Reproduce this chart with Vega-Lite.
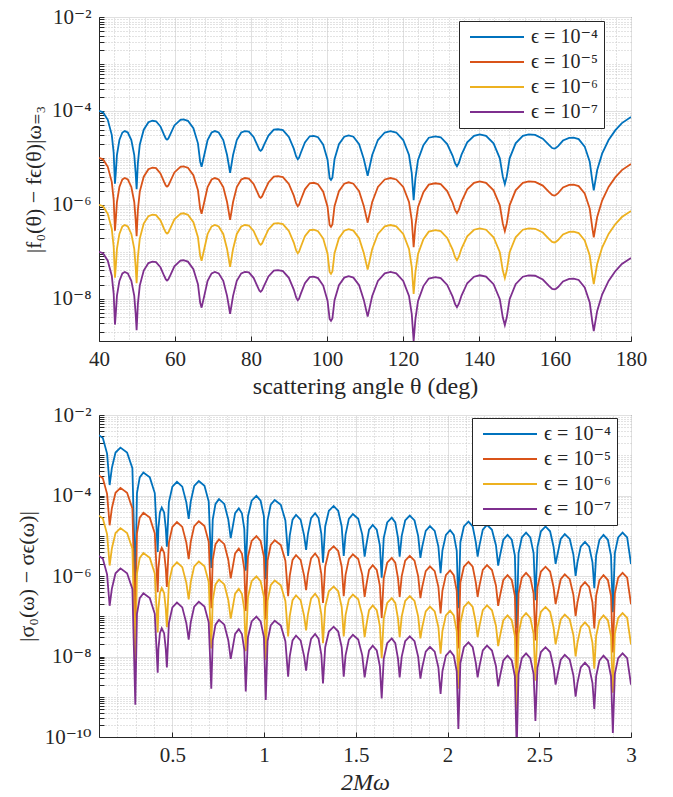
{
"$schema": "https://vega.github.io/schema/vega-lite/v6.json",
"padding": {"left": 14, "top": 5, "right": 5, "bottom": 2},
"config": {
  "font": "Liberation Serif, DejaVu Serif, serif",
  "view": {"stroke": "#262626", "strokeWidth": 1},
  "axis": {"labelFont": "Liberation Serif, DejaVu Serif, serif", "labelFontSize": 21, "labelColor": "#262626", "titleFont": "Liberation Serif, DejaVu Serif, serif", "titleFontSize": 22, "titleFontWeight": "normal", "titleColor": "#262626", "domainColor": "#262626", "tickColor": "#262626", "tickSize": -5, "labelFlush": false, "labelOverlap": false, "gridWidth": 1},
  "axisX": {"titleFontSize": 24},
  "legend": {"labelFont": "Liberation Serif, DejaVu Serif, serif", "labelFontSize": 20, "labelColor": "#262626", "symbolType": "M-1,0H9.8", "symbolSize": 100, "symbolStrokeWidth": 2, "fillColor": "white", "strokeColor": "#262626", "padding": 6, "rowPadding": 5, "labelOffset": 46, "title": null}
},
"datasets": {
"t4": [{"x":40,"y":1.00e-4},{"x":41.05,"y":9.33e-5},{"x":42.31,"y":6.46e-5},{"x":43.36,"y":3.09e-5},{"x":43.86,"y":1.29e-5},{"x":44.2,"y":2.82e-6},{"x":44.41,"y":4.68e-6},{"x":44.72,"y":1.15e-5},{"x":45.37,"y":2.40e-5},{"x":46.15,"y":3.47e-5},{"x":46.8,"y":3.72e-5},{"x":47.58,"y":3.47e-5},{"x":48.51,"y":2.40e-5},{"x":49.28,"y":1.15e-5},{"x":49.65,"y":4.68e-6},{"x":49.9,"y":2.14e-6},{"x":50.23,"y":7.76e-6},{"x":50.73,"y":1.91e-5},{"x":51.77,"y":3.98e-5},{"x":53.01,"y":5.75e-5},{"x":54.05,"y":6.17e-5},{"x":55.01,"y":6.03e-5},{"x":56.17,"y":4.68e-5},{"x":57.13,"y":3.09e-5},{"x":57.59,"y":2.57e-5},{"x":57.9,"y":2.45e-5},{"x":58.24,"y":2.57e-5},{"x":58.76,"y":3.16e-5},{"x":59.84,"y":4.90e-5},{"x":61.43,"y":6.46e-5},{"x":62.2,"y":6.61e-5},{"x":63.4,"y":6.17e-5},{"x":64.84,"y":4.27e-5},{"x":66.04,"y":2.04e-5},{"x":66.62,"y":8.32e-6},{"x":67,"y":6.46e-6},{"x":67.7,"y":1.15e-5},{"x":68.58,"y":2.40e-5},{"x":69.63,"y":3.47e-5},{"x":70.5,"y":3.72e-5},{"x":71.5,"y":3.47e-5},{"x":72.7,"y":2.40e-5},{"x":73.7,"y":1.15e-5},{"x":74.5,"y":4.79e-6},{"x":75.28,"y":1.15e-5},{"x":76.26,"y":2.40e-5},{"x":77.43,"y":3.47e-5},{"x":78.4,"y":3.72e-5},{"x":79.44,"y":3.63e-5},{"x":80.68,"y":2.79e-5},{"x":81.72,"y":1.82e-5},{"x":82.22,"y":1.48e-5},{"x":82.55,"y":1.41e-5},{"x":82.91,"y":1.51e-5},{"x":83.46,"y":1.91e-5},{"x":84.6,"y":2.99e-5},{"x":86,"y":3.98e-5},{"x":87.1,"y":4.07e-5},{"x":88.4,"y":3.89e-5},{"x":89.96,"y":2.79e-5},{"x":91.26,"y":1.57e-5},{"x":91.88,"y":1.07e-5},{"x":92.3,"y":9.33e-6},{"x":92.64,"y":1.00e-5},{"x":93.14,"y":1.30e-5},{"x":94.19,"y":2.14e-5},{"x":95.45,"y":2.88e-5},{"x":96.5,"y":2.95e-5},{"x":97.64,"y":2.75e-5},{"x":99,"y":1.91e-5},{"x":100.14,"y":9.12e-6},{"x":100.69,"y":3.72e-6},{"x":101.05,"y":3.39e-6},{"x":101.42,"y":3.80e-6},{"x":101.98,"y":9.33e-6},{"x":103.14,"y":1.95e-5},{"x":104.54,"y":2.82e-5},{"x":105.7,"y":3.02e-5},{"x":106.95,"y":2.82e-5},{"x":108.45,"y":1.95e-5},{"x":109.7,"y":9.33e-6},{"x":110.7,"y":4.17e-6},{"x":111.9,"y":1.15e-5},{"x":113.4,"y":2.40e-5},{"x":115.2,"y":3.47e-5},{"x":116.7,"y":3.72e-5},{"x":118.23,"y":3.47e-5},{"x":120.06,"y":2.40e-5},{"x":121.58,"y":1.15e-5},{"x":122.31,"y":4.68e-6},{"x":122.8,"y":1.26e-6},{"x":123.26,"y":3.63e-6},{"x":123.94,"y":8.91e-6},{"x":125.37,"y":1.86e-5},{"x":126.78,"y":2.69e-5},{"x":128.5,"y":2.88e-5},{"x":129.93,"y":2.75e-5},{"x":131.63,"y":1.97e-5},{"x":133.06,"y":1.11e-5},{"x":133.74,"y":7.59e-6},{"x":134.2,"y":6.61e-6},{"x":134.68,"y":7.76e-6},{"x":135.4,"y":1.17e-5},{"x":136.9,"y":2.14e-5},{"x":138.7,"y":2.95e-5},{"x":140.2,"y":3.16e-5},{"x":141.85,"y":2.95e-5},{"x":143.83,"y":2.04e-5},{"x":145.48,"y":9.77e-6},{"x":146.27,"y":3.98e-6},{"x":146.8,"y":2.75e-6},{"x":147.3,"y":3.98e-6},{"x":148.06,"y":9.77e-6},{"x":149.64,"y":2.04e-5},{"x":151.53,"y":2.95e-5},{"x":153.1,"y":3.16e-5},{"x":154.78,"y":3.09e-5},{"x":156.79,"y":2.57e-5},{"x":158.46,"y":1.86e-5},{"x":159.26,"y":1.62e-5},{"x":159.8,"y":1.58e-5},{"x":160.21,"y":1.62e-5},{"x":160.82,"y":1.78e-5},{"x":162.1,"y":2.34e-5},{"x":163.73,"y":2.66e-5},{"x":164.9,"y":2.69e-5},{"x":166.23,"y":2.51e-5},{"x":167.82,"y":1.74e-5},{"x":169.14,"y":8.32e-6},{"x":169.78,"y":3.39e-6},{"x":170.2,"y":2.04e-6},{"x":171.1,"y":5.50e-6},{"x":172.4,"y":1.23e-5},{"x":174.1,"y":2.40e-5},{"x":175.9,"y":3.89e-5},{"x":177.6,"y":5.50e-5},{"x":180,"y":7.41e-5}],
"t5": [{"x":40,"y":1.00e-5},{"x":41.05,"y":9.33e-6},{"x":42.31,"y":6.46e-6},{"x":43.36,"y":3.09e-6},{"x":43.86,"y":1.29e-6},{"x":44.2,"y":2.82e-7},{"x":44.41,"y":4.68e-7},{"x":44.72,"y":1.15e-6},{"x":45.37,"y":2.40e-6},{"x":46.15,"y":3.47e-6},{"x":46.8,"y":3.72e-6},{"x":47.58,"y":3.47e-6},{"x":48.51,"y":2.40e-6},{"x":49.28,"y":1.15e-6},{"x":49.65,"y":4.68e-7},{"x":49.9,"y":2.14e-7},{"x":50.23,"y":7.76e-7},{"x":50.73,"y":1.91e-6},{"x":51.77,"y":3.98e-6},{"x":53.01,"y":5.75e-6},{"x":54.05,"y":6.17e-6},{"x":55.01,"y":6.03e-6},{"x":56.17,"y":4.68e-6},{"x":57.13,"y":3.09e-6},{"x":57.59,"y":2.57e-6},{"x":57.9,"y":2.45e-6},{"x":58.24,"y":2.57e-6},{"x":58.76,"y":3.16e-6},{"x":59.84,"y":4.90e-6},{"x":61.43,"y":6.46e-6},{"x":62.2,"y":6.61e-6},{"x":63.4,"y":6.17e-6},{"x":64.84,"y":4.27e-6},{"x":66.04,"y":2.04e-6},{"x":66.62,"y":8.32e-7},{"x":67,"y":6.46e-7},{"x":67.7,"y":1.15e-6},{"x":68.58,"y":2.40e-6},{"x":69.63,"y":3.47e-6},{"x":70.5,"y":3.72e-6},{"x":71.5,"y":3.47e-6},{"x":72.7,"y":2.40e-6},{"x":73.7,"y":1.15e-6},{"x":74.5,"y":4.79e-7},{"x":75.28,"y":1.15e-6},{"x":76.26,"y":2.40e-6},{"x":77.43,"y":3.47e-6},{"x":78.4,"y":3.72e-6},{"x":79.44,"y":3.63e-6},{"x":80.68,"y":2.79e-6},{"x":81.72,"y":1.82e-6},{"x":82.22,"y":1.48e-6},{"x":82.55,"y":1.41e-6},{"x":82.91,"y":1.51e-6},{"x":83.46,"y":1.91e-6},{"x":84.6,"y":2.99e-6},{"x":86,"y":3.98e-6},{"x":87.1,"y":4.07e-6},{"x":88.4,"y":3.89e-6},{"x":89.96,"y":2.79e-6},{"x":91.26,"y":1.57e-6},{"x":91.88,"y":1.07e-6},{"x":92.3,"y":9.33e-7},{"x":92.64,"y":1.00e-6},{"x":93.14,"y":1.30e-6},{"x":94.19,"y":2.14e-6},{"x":95.45,"y":2.88e-6},{"x":96.5,"y":2.95e-6},{"x":97.64,"y":2.75e-6},{"x":99,"y":1.91e-6},{"x":100.14,"y":9.12e-7},{"x":100.69,"y":3.72e-7},{"x":101.05,"y":3.39e-7},{"x":101.42,"y":3.80e-7},{"x":101.98,"y":9.33e-7},{"x":103.14,"y":1.95e-6},{"x":104.54,"y":2.82e-6},{"x":105.7,"y":3.02e-6},{"x":106.95,"y":2.82e-6},{"x":108.45,"y":1.95e-6},{"x":109.7,"y":9.33e-7},{"x":110.7,"y":4.17e-7},{"x":111.9,"y":1.15e-6},{"x":113.4,"y":2.40e-6},{"x":115.2,"y":3.47e-6},{"x":116.7,"y":3.72e-6},{"x":118.23,"y":3.47e-6},{"x":120.06,"y":2.40e-6},{"x":121.58,"y":1.15e-6},{"x":122.31,"y":4.68e-7},{"x":122.8,"y":1.26e-7},{"x":123.26,"y":3.63e-7},{"x":123.94,"y":8.91e-7},{"x":125.37,"y":1.86e-6},{"x":126.78,"y":2.69e-6},{"x":128.5,"y":2.88e-6},{"x":129.93,"y":2.75e-6},{"x":131.63,"y":1.97e-6},{"x":133.06,"y":1.11e-6},{"x":133.74,"y":7.59e-7},{"x":134.2,"y":6.61e-7},{"x":134.68,"y":7.76e-7},{"x":135.4,"y":1.17e-6},{"x":136.9,"y":2.14e-6},{"x":138.7,"y":2.95e-6},{"x":140.2,"y":3.16e-6},{"x":141.85,"y":2.95e-6},{"x":143.83,"y":2.04e-6},{"x":145.48,"y":9.77e-7},{"x":146.27,"y":3.98e-7},{"x":146.8,"y":2.75e-7},{"x":147.3,"y":3.98e-7},{"x":148.06,"y":9.77e-7},{"x":149.64,"y":2.04e-6},{"x":151.53,"y":2.95e-6},{"x":153.1,"y":3.16e-6},{"x":154.78,"y":3.09e-6},{"x":156.79,"y":2.57e-6},{"x":158.46,"y":1.86e-6},{"x":159.26,"y":1.62e-6},{"x":159.8,"y":1.58e-6},{"x":160.21,"y":1.62e-6},{"x":160.82,"y":1.78e-6},{"x":162.1,"y":2.34e-6},{"x":163.73,"y":2.66e-6},{"x":164.9,"y":2.69e-6},{"x":166.23,"y":2.51e-6},{"x":167.82,"y":1.74e-6},{"x":169.14,"y":8.32e-7},{"x":169.78,"y":3.39e-7},{"x":170.2,"y":2.04e-7},{"x":171.1,"y":5.50e-7},{"x":172.4,"y":1.23e-6},{"x":174.1,"y":2.40e-6},{"x":175.9,"y":3.89e-6},{"x":177.6,"y":5.50e-6},{"x":180,"y":7.41e-6}],
"t6": [{"x":40,"y":1.00e-6},{"x":41.05,"y":9.33e-7},{"x":42.31,"y":6.46e-7},{"x":43.36,"y":3.09e-7},{"x":43.86,"y":1.29e-7},{"x":44.2,"y":2.82e-8},{"x":44.41,"y":4.68e-8},{"x":44.72,"y":1.15e-7},{"x":45.37,"y":2.40e-7},{"x":46.15,"y":3.47e-7},{"x":46.8,"y":3.72e-7},{"x":47.58,"y":3.47e-7},{"x":48.51,"y":2.40e-7},{"x":49.28,"y":1.15e-7},{"x":49.65,"y":4.68e-8},{"x":49.9,"y":2.14e-8},{"x":50.23,"y":7.76e-8},{"x":50.73,"y":1.91e-7},{"x":51.77,"y":3.98e-7},{"x":53.01,"y":5.75e-7},{"x":54.05,"y":6.17e-7},{"x":55.01,"y":6.03e-7},{"x":56.17,"y":4.68e-7},{"x":57.13,"y":3.09e-7},{"x":57.59,"y":2.57e-7},{"x":57.9,"y":2.45e-7},{"x":58.24,"y":2.57e-7},{"x":58.76,"y":3.16e-7},{"x":59.84,"y":4.90e-7},{"x":61.43,"y":6.46e-7},{"x":62.2,"y":6.61e-7},{"x":63.4,"y":6.17e-7},{"x":64.84,"y":4.27e-7},{"x":66.04,"y":2.04e-7},{"x":66.62,"y":8.32e-8},{"x":67,"y":6.46e-8},{"x":67.7,"y":1.15e-7},{"x":68.58,"y":2.40e-7},{"x":69.63,"y":3.47e-7},{"x":70.5,"y":3.72e-7},{"x":71.5,"y":3.47e-7},{"x":72.7,"y":2.40e-7},{"x":73.7,"y":1.15e-7},{"x":74.5,"y":4.79e-8},{"x":75.28,"y":1.15e-7},{"x":76.26,"y":2.40e-7},{"x":77.43,"y":3.47e-7},{"x":78.4,"y":3.72e-7},{"x":79.44,"y":3.63e-7},{"x":80.68,"y":2.79e-7},{"x":81.72,"y":1.82e-7},{"x":82.22,"y":1.48e-7},{"x":82.55,"y":1.41e-7},{"x":82.91,"y":1.51e-7},{"x":83.46,"y":1.91e-7},{"x":84.6,"y":2.99e-7},{"x":86,"y":3.98e-7},{"x":87.1,"y":4.07e-7},{"x":88.4,"y":3.89e-7},{"x":89.96,"y":2.79e-7},{"x":91.26,"y":1.57e-7},{"x":91.88,"y":1.07e-7},{"x":92.3,"y":9.33e-8},{"x":92.64,"y":1.00e-7},{"x":93.14,"y":1.30e-7},{"x":94.19,"y":2.14e-7},{"x":95.45,"y":2.88e-7},{"x":96.5,"y":2.95e-7},{"x":97.64,"y":2.75e-7},{"x":99,"y":1.91e-7},{"x":100.14,"y":9.12e-8},{"x":100.69,"y":3.72e-8},{"x":101.05,"y":3.39e-8},{"x":101.42,"y":3.80e-8},{"x":101.98,"y":9.33e-8},{"x":103.14,"y":1.95e-7},{"x":104.54,"y":2.82e-7},{"x":105.7,"y":3.02e-7},{"x":106.95,"y":2.82e-7},{"x":108.45,"y":1.95e-7},{"x":109.7,"y":9.33e-8},{"x":110.7,"y":4.17e-8},{"x":111.9,"y":1.15e-7},{"x":113.4,"y":2.40e-7},{"x":115.2,"y":3.47e-7},{"x":116.7,"y":3.72e-7},{"x":118.23,"y":3.47e-7},{"x":120.06,"y":2.40e-7},{"x":121.58,"y":1.15e-7},{"x":122.31,"y":4.68e-8},{"x":122.8,"y":1.26e-8},{"x":123.26,"y":3.63e-8},{"x":123.94,"y":8.91e-8},{"x":125.37,"y":1.86e-7},{"x":126.78,"y":2.69e-7},{"x":128.5,"y":2.88e-7},{"x":129.93,"y":2.75e-7},{"x":131.63,"y":1.97e-7},{"x":133.06,"y":1.11e-7},{"x":133.74,"y":7.59e-8},{"x":134.2,"y":6.61e-8},{"x":134.68,"y":7.76e-8},{"x":135.4,"y":1.17e-7},{"x":136.9,"y":2.14e-7},{"x":138.7,"y":2.95e-7},{"x":140.2,"y":3.16e-7},{"x":141.85,"y":2.95e-7},{"x":143.83,"y":2.04e-7},{"x":145.48,"y":9.77e-8},{"x":146.27,"y":3.98e-8},{"x":146.8,"y":2.75e-8},{"x":147.3,"y":3.98e-8},{"x":148.06,"y":9.77e-8},{"x":149.64,"y":2.04e-7},{"x":151.53,"y":2.95e-7},{"x":153.1,"y":3.16e-7},{"x":154.78,"y":3.09e-7},{"x":156.79,"y":2.57e-7},{"x":158.46,"y":1.86e-7},{"x":159.26,"y":1.62e-7},{"x":159.8,"y":1.58e-7},{"x":160.21,"y":1.62e-7},{"x":160.82,"y":1.78e-7},{"x":162.1,"y":2.34e-7},{"x":163.73,"y":2.66e-7},{"x":164.9,"y":2.69e-7},{"x":166.23,"y":2.51e-7},{"x":167.82,"y":1.74e-7},{"x":169.14,"y":8.32e-8},{"x":169.78,"y":3.39e-8},{"x":170.2,"y":2.04e-8},{"x":171.1,"y":5.50e-8},{"x":172.4,"y":1.23e-7},{"x":174.1,"y":2.40e-7},{"x":175.9,"y":3.89e-7},{"x":177.6,"y":5.50e-7},{"x":180,"y":7.41e-7}],
"t7": [{"x":40,"y":1.00e-7},{"x":41.05,"y":9.33e-8},{"x":42.31,"y":6.46e-8},{"x":43.36,"y":3.09e-8},{"x":43.86,"y":1.29e-8},{"x":44.2,"y":2.82e-9},{"x":44.41,"y":4.68e-9},{"x":44.72,"y":1.15e-8},{"x":45.37,"y":2.40e-8},{"x":46.15,"y":3.47e-8},{"x":46.8,"y":3.72e-8},{"x":47.58,"y":3.47e-8},{"x":48.51,"y":2.40e-8},{"x":49.28,"y":1.15e-8},{"x":49.65,"y":4.68e-9},{"x":49.9,"y":2.14e-9},{"x":50.23,"y":7.76e-9},{"x":50.73,"y":1.91e-8},{"x":51.77,"y":3.98e-8},{"x":53.01,"y":5.75e-8},{"x":54.05,"y":6.17e-8},{"x":55.01,"y":6.03e-8},{"x":56.17,"y":4.68e-8},{"x":57.13,"y":3.09e-8},{"x":57.59,"y":2.57e-8},{"x":57.9,"y":2.45e-8},{"x":58.24,"y":2.57e-8},{"x":58.76,"y":3.16e-8},{"x":59.84,"y":4.90e-8},{"x":61.43,"y":6.46e-8},{"x":62.2,"y":6.61e-8},{"x":63.4,"y":6.17e-8},{"x":64.84,"y":4.27e-8},{"x":66.04,"y":2.04e-8},{"x":66.62,"y":8.32e-9},{"x":67,"y":6.46e-9},{"x":67.7,"y":1.15e-8},{"x":68.58,"y":2.40e-8},{"x":69.63,"y":3.47e-8},{"x":70.5,"y":3.72e-8},{"x":71.5,"y":3.47e-8},{"x":72.7,"y":2.40e-8},{"x":73.7,"y":1.15e-8},{"x":74.5,"y":4.79e-9},{"x":75.28,"y":1.15e-8},{"x":76.26,"y":2.40e-8},{"x":77.43,"y":3.47e-8},{"x":78.4,"y":3.72e-8},{"x":79.44,"y":3.63e-8},{"x":80.68,"y":2.79e-8},{"x":81.72,"y":1.82e-8},{"x":82.22,"y":1.48e-8},{"x":82.55,"y":1.41e-8},{"x":82.91,"y":1.51e-8},{"x":83.46,"y":1.91e-8},{"x":84.6,"y":2.99e-8},{"x":86,"y":3.98e-8},{"x":87.1,"y":4.07e-8},{"x":88.4,"y":3.89e-8},{"x":89.96,"y":2.79e-8},{"x":91.26,"y":1.57e-8},{"x":91.88,"y":1.07e-8},{"x":92.3,"y":9.33e-9},{"x":92.64,"y":1.00e-8},{"x":93.14,"y":1.30e-8},{"x":94.19,"y":2.14e-8},{"x":95.45,"y":2.88e-8},{"x":96.5,"y":2.95e-8},{"x":97.64,"y":2.75e-8},{"x":99,"y":1.91e-8},{"x":100.14,"y":9.12e-9},{"x":100.69,"y":3.72e-9},{"x":101.05,"y":3.39e-9},{"x":101.42,"y":3.80e-9},{"x":101.98,"y":9.33e-9},{"x":103.14,"y":1.95e-8},{"x":104.54,"y":2.82e-8},{"x":105.7,"y":3.02e-8},{"x":106.95,"y":2.82e-8},{"x":108.45,"y":1.95e-8},{"x":109.7,"y":9.33e-9},{"x":110.7,"y":4.17e-9},{"x":111.9,"y":1.15e-8},{"x":113.4,"y":2.40e-8},{"x":115.2,"y":3.47e-8},{"x":116.7,"y":3.72e-8},{"x":118.23,"y":3.47e-8},{"x":120.06,"y":2.40e-8},{"x":121.58,"y":1.15e-8},{"x":122.31,"y":4.68e-9},{"x":122.8,"y":1.26e-9},{"x":123.26,"y":3.63e-9},{"x":123.94,"y":8.91e-9},{"x":125.37,"y":1.86e-8},{"x":126.78,"y":2.69e-8},{"x":128.5,"y":2.88e-8},{"x":129.93,"y":2.75e-8},{"x":131.63,"y":1.97e-8},{"x":133.06,"y":1.11e-8},{"x":133.74,"y":7.59e-9},{"x":134.2,"y":6.61e-9},{"x":134.68,"y":7.76e-9},{"x":135.4,"y":1.17e-8},{"x":136.9,"y":2.14e-8},{"x":138.7,"y":2.95e-8},{"x":140.2,"y":3.16e-8},{"x":141.85,"y":2.95e-8},{"x":143.83,"y":2.04e-8},{"x":145.48,"y":9.77e-9},{"x":146.27,"y":3.98e-9},{"x":146.8,"y":2.75e-9},{"x":147.3,"y":3.98e-9},{"x":148.06,"y":9.77e-9},{"x":149.64,"y":2.04e-8},{"x":151.53,"y":2.95e-8},{"x":153.1,"y":3.16e-8},{"x":154.78,"y":3.09e-8},{"x":156.79,"y":2.57e-8},{"x":158.46,"y":1.86e-8},{"x":159.26,"y":1.62e-8},{"x":159.8,"y":1.58e-8},{"x":160.21,"y":1.62e-8},{"x":160.82,"y":1.78e-8},{"x":162.1,"y":2.34e-8},{"x":163.73,"y":2.66e-8},{"x":164.9,"y":2.69e-8},{"x":166.23,"y":2.51e-8},{"x":167.82,"y":1.74e-8},{"x":169.14,"y":8.32e-9},{"x":169.78,"y":3.39e-9},{"x":170.2,"y":2.04e-9},{"x":171.1,"y":5.50e-9},{"x":172.4,"y":1.23e-8},{"x":174.1,"y":2.40e-8},{"x":175.9,"y":3.89e-8},{"x":177.6,"y":5.50e-8},{"x":180,"y":7.41e-8}],
"b4": [{"x":0.1,"y":3.16e-3},{"x":0.121,"y":2.69e-3},{"x":0.144,"y":1.10e-3},{"x":0.158,"y":1.82e-4},{"x":0.17,"y":4.79e-4},{"x":0.19,"y":1.17e-3},{"x":0.217,"y":1.55e-3},{"x":0.253,"y":1.17e-3},{"x":0.282,"y":4.79e-4},{"x":0.298,"y":6.31e-7},{"x":0.307,"y":1.15e-4},{"x":0.322,"y":2.82e-4},{"x":0.342,"y":3.72e-4},{"x":0.377,"y":2.82e-4},{"x":0.404,"y":1.15e-4},{"x":0.42,"y":3.98e-6},{"x":0.424,"y":1.55e-5},{"x":0.432,"y":3.80e-5},{"x":0.442,"y":5.01e-5},{"x":0.455,"y":3.80e-5},{"x":0.464,"y":1.55e-5},{"x":0.47,"y":5.37e-6},{"x":0.481,"y":6.76e-5},{"x":0.5,"y":1.66e-4},{"x":0.525,"y":2.19e-4},{"x":0.554,"y":1.66e-4},{"x":0.576,"y":6.76e-5},{"x":0.589,"y":2.63e-5},{"x":0.6,"y":7.08e-5},{"x":0.619,"y":1.74e-4},{"x":0.644,"y":2.29e-4},{"x":0.675,"y":1.74e-4},{"x":0.698,"y":7.08e-5},{"x":0.712,"y":1.58e-6},{"x":0.72,"y":2.51e-5},{"x":0.735,"y":6.17e-5},{"x":0.754,"y":8.13e-5},{"x":0.783,"y":6.17e-5},{"x":0.805,"y":2.51e-5},{"x":0.818,"y":8.71e-6},{"x":0.827,"y":1.48e-5},{"x":0.842,"y":3.63e-5},{"x":0.862,"y":4.79e-5},{"x":0.879,"y":3.63e-5},{"x":0.892,"y":1.48e-5},{"x":0.9,"y":1.35e-6},{"x":0.912,"y":3.02e-5},{"x":0.932,"y":7.41e-5},{"x":0.958,"y":9.77e-5},{"x":0.981,"y":7.41e-5},{"x":0.999,"y":3.02e-5},{"x":1.009,"y":8.32e-7},{"x":1.019,"y":2.40e-5},{"x":1.036,"y":5.89e-5},{"x":1.058,"y":7.76e-5},{"x":1.091,"y":5.89e-5},{"x":1.116,"y":2.40e-5},{"x":1.131,"y":3.16e-6},{"x":1.14,"y":1.02e-5},{"x":1.155,"y":2.51e-5},{"x":1.174,"y":3.31e-5},{"x":1.199,"y":2.51e-5},{"x":1.218,"y":1.02e-5},{"x":1.229,"y":4.47e-6},{"x":1.239,"y":1.12e-5},{"x":1.256,"y":2.75e-5},{"x":1.278,"y":3.63e-5},{"x":1.297,"y":2.75e-5},{"x":1.312,"y":1.12e-5},{"x":1.321,"y":2.14e-6},{"x":1.333,"y":1.70e-5},{"x":1.353,"y":4.17e-5},{"x":1.379,"y":5.50e-5},{"x":1.404,"y":4.17e-5},{"x":1.423,"y":1.70e-5},{"x":1.434,"y":3.16e-6},{"x":1.444,"y":1.07e-5},{"x":1.462,"y":2.63e-5},{"x":1.484,"y":3.47e-5},{"x":1.513,"y":2.63e-5},{"x":1.535,"y":1.07e-5},{"x":1.548,"y":3.02e-6},{"x":1.557,"y":5.75e-6},{"x":1.572,"y":1.41e-5},{"x":1.592,"y":1.86e-5},{"x":1.614,"y":1.41e-5},{"x":1.631,"y":5.75e-6},{"x":1.641,"y":9.12e-7},{"x":1.652,"y":8.71e-6},{"x":1.671,"y":2.14e-5},{"x":1.696,"y":2.82e-5},{"x":1.715,"y":2.14e-5},{"x":1.73,"y":8.71e-6},{"x":1.739,"y":3.02e-6},{"x":1.75,"y":9.77e-6},{"x":1.769,"y":2.40e-5},{"x":1.794,"y":3.16e-5},{"x":1.82,"y":2.40e-5},{"x":1.84,"y":9.77e-6},{"x":1.852,"y":2.82e-6},{"x":1.862,"y":5.37e-6},{"x":1.881,"y":1.32e-5},{"x":1.904,"y":1.74e-5},{"x":1.93,"y":1.32e-5},{"x":1.95,"y":5.37e-6},{"x":1.962,"y":1.17e-6},{"x":1.972,"y":4.27e-6},{"x":1.991,"y":1.05e-5},{"x":2.014,"y":1.38e-5},{"x":2.034,"y":1.05e-5},{"x":2.05,"y":4.27e-6},{"x":2.059,"y":1.58e-7},{"x":2.07,"y":6.92e-6},{"x":2.089,"y":1.70e-5},{"x":2.114,"y":2.24e-5},{"x":2.137,"y":1.70e-5},{"x":2.154,"y":6.92e-6},{"x":2.164,"y":3.02e-6},{"x":2.174,"y":5.75e-6},{"x":2.192,"y":1.41e-5},{"x":2.215,"y":1.86e-5},{"x":2.242,"y":1.41e-5},{"x":2.264,"y":5.75e-6},{"x":2.276,"y":1.82e-6},{"x":2.286,"y":3.24e-6},{"x":2.304,"y":7.94e-6},{"x":2.327,"y":1.05e-5},{"x":2.35,"y":7.94e-6},{"x":2.367,"y":3.24e-6},{"x":2.377,"y":5.01e-8},{"x":2.387,"y":3.72e-6},{"x":2.405,"y":9.12e-6},{"x":2.428,"y":1.20e-5},{"x":2.451,"y":9.12e-6},{"x":2.469,"y":3.72e-6},{"x":2.479,"y":2.51e-7},{"x":2.49,"y":5.25e-6},{"x":2.509,"y":1.29e-5},{"x":2.534,"y":1.70e-5},{"x":2.559,"y":1.29e-5},{"x":2.578,"y":5.25e-6},{"x":2.589,"y":2.00e-6},{"x":2.599,"y":3.39e-6},{"x":2.617,"y":8.32e-6},{"x":2.639,"y":1.10e-5},{"x":2.666,"y":8.32e-6},{"x":2.686,"y":3.39e-6},{"x":2.698,"y":1.00e-6},{"x":2.708,"y":2.19e-6},{"x":2.726,"y":5.37e-6},{"x":2.749,"y":7.08e-6},{"x":2.772,"y":5.37e-6},{"x":2.79,"y":2.19e-6},{"x":2.8,"y":5.01e-7},{"x":2.81,"y":3.24e-6},{"x":2.828,"y":7.94e-6},{"x":2.85,"y":1.05e-5},{"x":2.874,"y":7.94e-6},{"x":2.891,"y":3.24e-6},{"x":2.901,"y":1.26e-7},{"x":2.912,"y":3.72e-6},{"x":2.93,"y":9.12e-6},{"x":2.954,"y":1.20e-5},{"x":2.979,"y":9.12e-6},{"x":3,"y":2.00e-6}],
"b5": [{"x":0.1,"y":3.16e-4},{"x":0.121,"y":2.69e-4},{"x":0.144,"y":1.10e-4},{"x":0.158,"y":1.82e-5},{"x":0.17,"y":4.79e-5},{"x":0.19,"y":1.17e-4},{"x":0.217,"y":1.55e-4},{"x":0.253,"y":1.17e-4},{"x":0.282,"y":4.79e-5},{"x":0.298,"y":6.31e-8},{"x":0.307,"y":1.15e-5},{"x":0.322,"y":2.82e-5},{"x":0.342,"y":3.72e-5},{"x":0.377,"y":2.82e-5},{"x":0.404,"y":1.15e-5},{"x":0.42,"y":3.98e-7},{"x":0.424,"y":1.55e-6},{"x":0.432,"y":3.80e-6},{"x":0.442,"y":5.01e-6},{"x":0.455,"y":3.80e-6},{"x":0.464,"y":1.55e-6},{"x":0.47,"y":5.37e-7},{"x":0.481,"y":6.76e-6},{"x":0.5,"y":1.66e-5},{"x":0.525,"y":2.19e-5},{"x":0.554,"y":1.66e-5},{"x":0.576,"y":6.76e-6},{"x":0.589,"y":2.63e-6},{"x":0.6,"y":7.08e-6},{"x":0.619,"y":1.74e-5},{"x":0.644,"y":2.29e-5},{"x":0.675,"y":1.74e-5},{"x":0.698,"y":7.08e-6},{"x":0.712,"y":1.58e-7},{"x":0.72,"y":2.51e-6},{"x":0.735,"y":6.17e-6},{"x":0.754,"y":8.13e-6},{"x":0.783,"y":6.17e-6},{"x":0.805,"y":2.51e-6},{"x":0.818,"y":8.71e-7},{"x":0.827,"y":1.48e-6},{"x":0.842,"y":3.63e-6},{"x":0.862,"y":4.79e-6},{"x":0.879,"y":3.63e-6},{"x":0.892,"y":1.48e-6},{"x":0.9,"y":1.35e-7},{"x":0.912,"y":3.02e-6},{"x":0.932,"y":7.41e-6},{"x":0.958,"y":9.77e-6},{"x":0.981,"y":7.41e-6},{"x":0.999,"y":3.02e-6},{"x":1.009,"y":8.32e-8},{"x":1.019,"y":2.40e-6},{"x":1.036,"y":5.89e-6},{"x":1.058,"y":7.76e-6},{"x":1.091,"y":5.89e-6},{"x":1.116,"y":2.40e-6},{"x":1.131,"y":3.16e-7},{"x":1.14,"y":1.02e-6},{"x":1.155,"y":2.51e-6},{"x":1.174,"y":3.31e-6},{"x":1.199,"y":2.51e-6},{"x":1.218,"y":1.02e-6},{"x":1.229,"y":4.47e-7},{"x":1.239,"y":1.12e-6},{"x":1.256,"y":2.75e-6},{"x":1.278,"y":3.63e-6},{"x":1.297,"y":2.75e-6},{"x":1.312,"y":1.12e-6},{"x":1.321,"y":2.14e-7},{"x":1.333,"y":1.70e-6},{"x":1.353,"y":4.17e-6},{"x":1.379,"y":5.50e-6},{"x":1.404,"y":4.17e-6},{"x":1.423,"y":1.70e-6},{"x":1.434,"y":3.16e-7},{"x":1.444,"y":1.07e-6},{"x":1.462,"y":2.63e-6},{"x":1.484,"y":3.47e-6},{"x":1.513,"y":2.63e-6},{"x":1.535,"y":1.07e-6},{"x":1.548,"y":3.02e-7},{"x":1.557,"y":5.75e-7},{"x":1.572,"y":1.41e-6},{"x":1.592,"y":1.86e-6},{"x":1.614,"y":1.41e-6},{"x":1.631,"y":5.75e-7},{"x":1.641,"y":9.12e-8},{"x":1.652,"y":8.71e-7},{"x":1.671,"y":2.14e-6},{"x":1.696,"y":2.82e-6},{"x":1.715,"y":2.14e-6},{"x":1.73,"y":8.71e-7},{"x":1.739,"y":3.02e-7},{"x":1.75,"y":9.77e-7},{"x":1.769,"y":2.40e-6},{"x":1.794,"y":3.16e-6},{"x":1.82,"y":2.40e-6},{"x":1.84,"y":9.77e-7},{"x":1.852,"y":2.82e-7},{"x":1.862,"y":5.37e-7},{"x":1.881,"y":1.32e-6},{"x":1.904,"y":1.74e-6},{"x":1.93,"y":1.32e-6},{"x":1.95,"y":5.37e-7},{"x":1.962,"y":1.17e-7},{"x":1.972,"y":4.27e-7},{"x":1.991,"y":1.05e-6},{"x":2.014,"y":1.38e-6},{"x":2.034,"y":1.05e-6},{"x":2.05,"y":4.27e-7},{"x":2.059,"y":1.58e-8},{"x":2.07,"y":6.92e-7},{"x":2.089,"y":1.70e-6},{"x":2.114,"y":2.24e-6},{"x":2.137,"y":1.70e-6},{"x":2.154,"y":6.92e-7},{"x":2.164,"y":3.02e-7},{"x":2.174,"y":5.75e-7},{"x":2.192,"y":1.41e-6},{"x":2.215,"y":1.86e-6},{"x":2.242,"y":1.41e-6},{"x":2.264,"y":5.75e-7},{"x":2.276,"y":1.82e-7},{"x":2.286,"y":3.24e-7},{"x":2.304,"y":7.94e-7},{"x":2.327,"y":1.05e-6},{"x":2.35,"y":7.94e-7},{"x":2.367,"y":3.24e-7},{"x":2.377,"y":5.01e-9},{"x":2.387,"y":3.72e-7},{"x":2.405,"y":9.12e-7},{"x":2.428,"y":1.20e-6},{"x":2.451,"y":9.12e-7},{"x":2.469,"y":3.72e-7},{"x":2.479,"y":2.51e-8},{"x":2.49,"y":5.25e-7},{"x":2.509,"y":1.29e-6},{"x":2.534,"y":1.70e-6},{"x":2.559,"y":1.29e-6},{"x":2.578,"y":5.25e-7},{"x":2.589,"y":2.00e-7},{"x":2.599,"y":3.39e-7},{"x":2.617,"y":8.32e-7},{"x":2.639,"y":1.10e-6},{"x":2.666,"y":8.32e-7},{"x":2.686,"y":3.39e-7},{"x":2.698,"y":1.00e-7},{"x":2.708,"y":2.19e-7},{"x":2.726,"y":5.37e-7},{"x":2.749,"y":7.08e-7},{"x":2.772,"y":5.37e-7},{"x":2.79,"y":2.19e-7},{"x":2.8,"y":5.01e-8},{"x":2.81,"y":3.24e-7},{"x":2.828,"y":7.94e-7},{"x":2.85,"y":1.05e-6},{"x":2.874,"y":7.94e-7},{"x":2.891,"y":3.24e-7},{"x":2.901,"y":1.26e-8},{"x":2.912,"y":3.72e-7},{"x":2.93,"y":9.12e-7},{"x":2.954,"y":1.20e-6},{"x":2.979,"y":9.12e-7},{"x":3,"y":2.00e-7}],
"b6": [{"x":0.1,"y":3.16e-5},{"x":0.121,"y":2.69e-5},{"x":0.144,"y":1.10e-5},{"x":0.158,"y":1.82e-6},{"x":0.17,"y":4.79e-6},{"x":0.19,"y":1.17e-5},{"x":0.217,"y":1.55e-5},{"x":0.253,"y":1.17e-5},{"x":0.282,"y":4.79e-6},{"x":0.298,"y":6.31e-9},{"x":0.307,"y":1.15e-6},{"x":0.322,"y":2.82e-6},{"x":0.342,"y":3.72e-6},{"x":0.377,"y":2.82e-6},{"x":0.404,"y":1.15e-6},{"x":0.42,"y":3.98e-8},{"x":0.424,"y":1.55e-7},{"x":0.432,"y":3.80e-7},{"x":0.442,"y":5.01e-7},{"x":0.455,"y":3.80e-7},{"x":0.464,"y":1.55e-7},{"x":0.47,"y":5.37e-8},{"x":0.481,"y":6.76e-7},{"x":0.5,"y":1.66e-6},{"x":0.525,"y":2.19e-6},{"x":0.554,"y":1.66e-6},{"x":0.576,"y":6.76e-7},{"x":0.589,"y":2.63e-7},{"x":0.6,"y":7.08e-7},{"x":0.619,"y":1.74e-6},{"x":0.644,"y":2.29e-6},{"x":0.675,"y":1.74e-6},{"x":0.698,"y":7.08e-7},{"x":0.712,"y":1.58e-8},{"x":0.72,"y":2.51e-7},{"x":0.735,"y":6.17e-7},{"x":0.754,"y":8.13e-7},{"x":0.783,"y":6.17e-7},{"x":0.805,"y":2.51e-7},{"x":0.818,"y":8.71e-8},{"x":0.827,"y":1.48e-7},{"x":0.842,"y":3.63e-7},{"x":0.862,"y":4.79e-7},{"x":0.879,"y":3.63e-7},{"x":0.892,"y":1.48e-7},{"x":0.9,"y":1.35e-8},{"x":0.912,"y":3.02e-7},{"x":0.932,"y":7.41e-7},{"x":0.958,"y":9.77e-7},{"x":0.981,"y":7.41e-7},{"x":0.999,"y":3.02e-7},{"x":1.009,"y":8.32e-9},{"x":1.019,"y":2.40e-7},{"x":1.036,"y":5.89e-7},{"x":1.058,"y":7.76e-7},{"x":1.091,"y":5.89e-7},{"x":1.116,"y":2.40e-7},{"x":1.131,"y":3.16e-8},{"x":1.14,"y":1.02e-7},{"x":1.155,"y":2.51e-7},{"x":1.174,"y":3.31e-7},{"x":1.199,"y":2.51e-7},{"x":1.218,"y":1.02e-7},{"x":1.229,"y":4.47e-8},{"x":1.239,"y":1.12e-7},{"x":1.256,"y":2.75e-7},{"x":1.278,"y":3.63e-7},{"x":1.297,"y":2.75e-7},{"x":1.312,"y":1.12e-7},{"x":1.321,"y":2.14e-8},{"x":1.333,"y":1.70e-7},{"x":1.353,"y":4.17e-7},{"x":1.379,"y":5.50e-7},{"x":1.404,"y":4.17e-7},{"x":1.423,"y":1.70e-7},{"x":1.434,"y":3.16e-8},{"x":1.444,"y":1.07e-7},{"x":1.462,"y":2.63e-7},{"x":1.484,"y":3.47e-7},{"x":1.513,"y":2.63e-7},{"x":1.535,"y":1.07e-7},{"x":1.548,"y":3.02e-8},{"x":1.557,"y":5.75e-8},{"x":1.572,"y":1.41e-7},{"x":1.592,"y":1.86e-7},{"x":1.614,"y":1.41e-7},{"x":1.631,"y":5.75e-8},{"x":1.641,"y":9.12e-9},{"x":1.652,"y":8.71e-8},{"x":1.671,"y":2.14e-7},{"x":1.696,"y":2.82e-7},{"x":1.715,"y":2.14e-7},{"x":1.73,"y":8.71e-8},{"x":1.739,"y":3.02e-8},{"x":1.75,"y":9.77e-8},{"x":1.769,"y":2.40e-7},{"x":1.794,"y":3.16e-7},{"x":1.82,"y":2.40e-7},{"x":1.84,"y":9.77e-8},{"x":1.852,"y":2.82e-8},{"x":1.862,"y":5.37e-8},{"x":1.881,"y":1.32e-7},{"x":1.904,"y":1.74e-7},{"x":1.93,"y":1.32e-7},{"x":1.95,"y":5.37e-8},{"x":1.962,"y":1.17e-8},{"x":1.972,"y":4.27e-8},{"x":1.991,"y":1.05e-7},{"x":2.014,"y":1.38e-7},{"x":2.034,"y":1.05e-7},{"x":2.05,"y":4.27e-8},{"x":2.059,"y":1.58e-9},{"x":2.07,"y":6.92e-8},{"x":2.089,"y":1.70e-7},{"x":2.114,"y":2.24e-7},{"x":2.137,"y":1.70e-7},{"x":2.154,"y":6.92e-8},{"x":2.164,"y":3.02e-8},{"x":2.174,"y":5.75e-8},{"x":2.192,"y":1.41e-7},{"x":2.215,"y":1.86e-7},{"x":2.242,"y":1.41e-7},{"x":2.264,"y":5.75e-8},{"x":2.276,"y":1.82e-8},{"x":2.286,"y":3.24e-8},{"x":2.304,"y":7.94e-8},{"x":2.327,"y":1.05e-7},{"x":2.35,"y":7.94e-8},{"x":2.367,"y":3.24e-8},{"x":2.377,"y":5.01e-10},{"x":2.387,"y":3.72e-8},{"x":2.405,"y":9.12e-8},{"x":2.428,"y":1.20e-7},{"x":2.451,"y":9.12e-8},{"x":2.469,"y":3.72e-8},{"x":2.479,"y":2.51e-9},{"x":2.49,"y":5.25e-8},{"x":2.509,"y":1.29e-7},{"x":2.534,"y":1.70e-7},{"x":2.559,"y":1.29e-7},{"x":2.578,"y":5.25e-8},{"x":2.589,"y":2.00e-8},{"x":2.599,"y":3.39e-8},{"x":2.617,"y":8.32e-8},{"x":2.639,"y":1.10e-7},{"x":2.666,"y":8.32e-8},{"x":2.686,"y":3.39e-8},{"x":2.698,"y":1.00e-8},{"x":2.708,"y":2.19e-8},{"x":2.726,"y":5.37e-8},{"x":2.749,"y":7.08e-8},{"x":2.772,"y":5.37e-8},{"x":2.79,"y":2.19e-8},{"x":2.8,"y":5.01e-9},{"x":2.81,"y":3.24e-8},{"x":2.828,"y":7.94e-8},{"x":2.85,"y":1.05e-7},{"x":2.874,"y":7.94e-8},{"x":2.891,"y":3.24e-8},{"x":2.901,"y":1.26e-9},{"x":2.912,"y":3.72e-8},{"x":2.93,"y":9.12e-8},{"x":2.954,"y":1.20e-7},{"x":2.979,"y":9.12e-8},{"x":3,"y":2.00e-8}],
"b7": [{"x":0.1,"y":3.16e-6},{"x":0.121,"y":2.69e-6},{"x":0.144,"y":1.10e-6},{"x":0.158,"y":1.82e-7},{"x":0.17,"y":4.79e-7},{"x":0.19,"y":1.17e-6},{"x":0.217,"y":1.55e-6},{"x":0.253,"y":1.17e-6},{"x":0.282,"y":4.79e-7},{"x":0.298,"y":6.31e-10},{"x":0.307,"y":1.15e-7},{"x":0.322,"y":2.82e-7},{"x":0.342,"y":3.72e-7},{"x":0.377,"y":2.82e-7},{"x":0.404,"y":1.15e-7},{"x":0.42,"y":3.98e-9},{"x":0.424,"y":1.55e-8},{"x":0.432,"y":3.80e-8},{"x":0.442,"y":5.01e-8},{"x":0.455,"y":3.80e-8},{"x":0.464,"y":1.55e-8},{"x":0.47,"y":5.37e-9},{"x":0.481,"y":6.76e-8},{"x":0.5,"y":1.66e-7},{"x":0.525,"y":2.19e-7},{"x":0.554,"y":1.66e-7},{"x":0.576,"y":6.76e-8},{"x":0.589,"y":2.63e-8},{"x":0.6,"y":7.08e-8},{"x":0.619,"y":1.74e-7},{"x":0.644,"y":2.29e-7},{"x":0.675,"y":1.74e-7},{"x":0.698,"y":7.08e-8},{"x":0.712,"y":1.58e-9},{"x":0.72,"y":2.51e-8},{"x":0.735,"y":6.17e-8},{"x":0.754,"y":8.13e-8},{"x":0.783,"y":6.17e-8},{"x":0.805,"y":2.51e-8},{"x":0.818,"y":8.71e-9},{"x":0.827,"y":1.48e-8},{"x":0.842,"y":3.63e-8},{"x":0.862,"y":4.79e-8},{"x":0.879,"y":3.63e-8},{"x":0.892,"y":1.48e-8},{"x":0.9,"y":1.35e-9},{"x":0.912,"y":3.02e-8},{"x":0.932,"y":7.41e-8},{"x":0.958,"y":9.77e-8},{"x":0.981,"y":7.41e-8},{"x":0.999,"y":3.02e-8},{"x":1.009,"y":8.32e-10},{"x":1.019,"y":2.40e-8},{"x":1.036,"y":5.89e-8},{"x":1.058,"y":7.76e-8},{"x":1.091,"y":5.89e-8},{"x":1.116,"y":2.40e-8},{"x":1.131,"y":3.16e-9},{"x":1.14,"y":1.02e-8},{"x":1.155,"y":2.51e-8},{"x":1.174,"y":3.31e-8},{"x":1.199,"y":2.51e-8},{"x":1.218,"y":1.02e-8},{"x":1.229,"y":4.47e-9},{"x":1.239,"y":1.12e-8},{"x":1.256,"y":2.75e-8},{"x":1.278,"y":3.63e-8},{"x":1.297,"y":2.75e-8},{"x":1.312,"y":1.12e-8},{"x":1.321,"y":2.14e-9},{"x":1.333,"y":1.70e-8},{"x":1.353,"y":4.17e-8},{"x":1.379,"y":5.50e-8},{"x":1.404,"y":4.17e-8},{"x":1.423,"y":1.70e-8},{"x":1.434,"y":3.16e-9},{"x":1.444,"y":1.07e-8},{"x":1.462,"y":2.63e-8},{"x":1.484,"y":3.47e-8},{"x":1.513,"y":2.63e-8},{"x":1.535,"y":1.07e-8},{"x":1.548,"y":3.02e-9},{"x":1.557,"y":5.75e-9},{"x":1.572,"y":1.41e-8},{"x":1.592,"y":1.86e-8},{"x":1.614,"y":1.41e-8},{"x":1.631,"y":5.75e-9},{"x":1.641,"y":9.12e-10},{"x":1.652,"y":8.71e-9},{"x":1.671,"y":2.14e-8},{"x":1.696,"y":2.82e-8},{"x":1.715,"y":2.14e-8},{"x":1.73,"y":8.71e-9},{"x":1.739,"y":3.02e-9},{"x":1.75,"y":9.77e-9},{"x":1.769,"y":2.40e-8},{"x":1.794,"y":3.16e-8},{"x":1.82,"y":2.40e-8},{"x":1.84,"y":9.77e-9},{"x":1.852,"y":2.82e-9},{"x":1.862,"y":5.37e-9},{"x":1.881,"y":1.32e-8},{"x":1.904,"y":1.74e-8},{"x":1.93,"y":1.32e-8},{"x":1.95,"y":5.37e-9},{"x":1.962,"y":1.17e-9},{"x":1.972,"y":4.27e-9},{"x":1.991,"y":1.05e-8},{"x":2.014,"y":1.38e-8},{"x":2.034,"y":1.05e-8},{"x":2.05,"y":4.27e-9},{"x":2.059,"y":1.58e-10},{"x":2.07,"y":6.92e-9},{"x":2.089,"y":1.70e-8},{"x":2.114,"y":2.24e-8},{"x":2.137,"y":1.70e-8},{"x":2.154,"y":6.92e-9},{"x":2.164,"y":3.02e-9},{"x":2.174,"y":5.75e-9},{"x":2.192,"y":1.41e-8},{"x":2.215,"y":1.86e-8},{"x":2.242,"y":1.41e-8},{"x":2.264,"y":5.75e-9},{"x":2.276,"y":1.82e-9},{"x":2.286,"y":3.24e-9},{"x":2.304,"y":7.94e-9},{"x":2.327,"y":1.05e-8},{"x":2.35,"y":7.94e-9},{"x":2.367,"y":3.24e-9},{"x":2.377,"y":5.01e-11},{"x":2.387,"y":3.72e-9},{"x":2.405,"y":9.12e-9},{"x":2.428,"y":1.20e-8},{"x":2.451,"y":9.12e-9},{"x":2.469,"y":3.72e-9},{"x":2.479,"y":2.51e-10},{"x":2.49,"y":5.25e-9},{"x":2.509,"y":1.29e-8},{"x":2.534,"y":1.70e-8},{"x":2.559,"y":1.29e-8},{"x":2.578,"y":5.25e-9},{"x":2.589,"y":2.00e-9},{"x":2.599,"y":3.39e-9},{"x":2.617,"y":8.32e-9},{"x":2.639,"y":1.10e-8},{"x":2.666,"y":8.32e-9},{"x":2.686,"y":3.39e-9},{"x":2.698,"y":1.00e-9},{"x":2.708,"y":2.19e-9},{"x":2.726,"y":5.37e-9},{"x":2.749,"y":7.08e-9},{"x":2.772,"y":5.37e-9},{"x":2.79,"y":2.19e-9},{"x":2.8,"y":5.01e-10},{"x":2.81,"y":3.24e-9},{"x":2.828,"y":7.94e-9},{"x":2.85,"y":1.05e-8},{"x":2.874,"y":7.94e-9},{"x":2.891,"y":3.24e-9},{"x":2.901,"y":1.26e-10},{"x":2.912,"y":3.72e-9},{"x":2.93,"y":9.12e-9},{"x":2.954,"y":1.20e-8},{"x":2.979,"y":9.12e-9},{"x":3,"y":2.00e-9}]
},
"spacing": 4,
"resolve": {"scale": {"color": "independent"}},
"vconcat": [
{
  "width": 532, "height": 324,
  "encoding": {
    "x": {"field": "x", "type": "quantitative", "scale": {"domain": [40, 180], "nice": false, "zero": false},
      "axis": {"title": "scattering angle θ (deg)", "values": [40,44,48,52,56,60,64,68,72,76,80,84,88,92,96,100,104,108,112,116,120,124,128,132,136,140,144,148,152,156,160,164,168,172,176,180],
        "labelExpr": "datum.value % 20 === 0 ? format(datum.value, '~g') : ''",
        "gridDash": {"condition": {"test": "datum.value % 20 === 0", "value": []}, "value": [1, 2]},
        "gridColor": {"condition": {"test": "datum.value % 20 === 0", "value": "#e0e0e0"}, "value": "#c6c6c6"},
        "tickColor": {"condition": {"test": "datum.value % 20 === 0", "value": "#262626"}, "value": "rgba(0,0,0,0)"},
        "labelPadding": 12, "titlePadding": 5}},
    "y": {"field": "y", "type": "quantitative", "scale": {"type": "log", "domain": [1.26e-9, 0.01], "nice": false},
      "axis": {"title": "|f₀(θ) − fϵ(θ)|ω₌₃", "values": [2e-9,3e-9,4e-9,5e-9,6e-9,7e-9,8e-9,9e-9,1e-8,2e-8,3e-8,4e-8,5e-8,6e-8,7e-8,8e-8,9e-8,1e-7,2e-7,3e-7,4e-7,5e-7,6e-7,7e-7,8e-7,9e-7,1e-6,2e-6,3e-6,4e-6,5e-6,6e-6,7e-6,8e-6,9e-6,1e-5,2e-5,3e-5,4e-5,5e-5,6e-5,7e-5,8e-5,9e-5,1e-4,2e-4,3e-4,4e-4,5e-4,6e-4,7e-4,8e-4,9e-4,1e-3,2e-3,3e-3,4e-3,5e-3,6e-3,7e-3,8e-3,9e-3,1e-2],
        "labelExpr": "abs(log(datum.value)/LN10 - round(log(datum.value)/LN10)) < 0.001 && round(log(datum.value)/LN10) % 2 === 0 ? (round(log(datum.value)/LN10) === -2 ? '10⁻²' : round(log(datum.value)/LN10) === -4 ? '10⁻⁴' : round(log(datum.value)/LN10) === -6 ? '10⁻⁶' : round(log(datum.value)/LN10) === -8 ? '10⁻⁸' : '10⁻¹⁰') : ''",
        "gridDash": {"condition": {"test": "abs(log(datum.value)/LN10 - round(log(datum.value)/LN10)) < 0.001 && round(log(datum.value)/LN10) % 2 === 0", "value": []}, "value": [1, 2]},
        "gridColor": {"condition": {"test": "abs(log(datum.value)/LN10 - round(log(datum.value)/LN10)) < 0.001 && round(log(datum.value)/LN10) % 2 === 0", "value": "#e0e0e0"}, "value": "#c6c6c6"},
        "labelPadding": 13, "titlePadding": 6}}
  },
  "layer": [
    {"data": {"name": "t4"}, "mark": {"type": "line", "clip": true, "strokeWidth": 1.8},
     "encoding": {"color": {"datum": "ϵ = 10⁻⁴", "type": "nominal",
        "scale": {"domain": ["ϵ = 10⁻⁴", "ϵ = 10⁻⁵", "ϵ = 10⁻⁶", "ϵ = 10⁻⁷"], "range": ["#0072BD", "#D95319", "#EDB120", "#7E2F8E"]},
        "legend": {"orient": "none", "legendX": 360, "legendY": 4}}}},
    {"data": {"name": "t5"}, "mark": {"type": "line", "clip": true, "strokeWidth": 1.8}, "encoding": {"color": {"datum": "ϵ = 10⁻⁵", "type": "nominal"}}},
    {"data": {"name": "t6"}, "mark": {"type": "line", "clip": true, "strokeWidth": 1.8}, "encoding": {"color": {"datum": "ϵ = 10⁻⁶", "type": "nominal"}}},
    {"data": {"name": "t7"}, "mark": {"type": "line", "clip": true, "strokeWidth": 1.8}, "encoding": {"color": {"datum": "ϵ = 10⁻⁷", "type": "nominal"}}}
  ]
},
{
  "width": 532, "height": 322,
  "encoding": {
    "x": {"field": "x", "type": "quantitative", "scale": {"domain": [0.1, 3], "nice": false, "zero": false},
      "axis": {"title": "2Mω", "values": [0.1,0.2,0.3,0.4,0.5,0.6,0.7,0.8,0.9,1,1.1,1.2,1.3,1.4,1.5,1.6,1.7,1.8,1.9,2,2.1,2.2,2.3,2.4,2.5,2.6,2.7,2.8,2.9,3],
        "labelExpr": "abs(datum.value*2 - round(datum.value*2)) < 0.001 ? format(datum.value, '~g') : ''",
        "gridDash": {"condition": {"test": "abs(datum.value*2 - round(datum.value*2)) < 0.001", "value": []}, "value": [1, 2]},
        "gridColor": {"condition": {"test": "abs(datum.value*2 - round(datum.value*2)) < 0.001", "value": "#e0e0e0"}, "value": "#c6c6c6"},
        "tickColor": {"condition": {"test": "abs(datum.value*2 - round(datum.value*2)) < 0.001", "value": "#262626"}, "value": "rgba(0,0,0,0)"},
        "labelPadding": 12, "titlePadding": 5, "titleFontStyle": "italic"}},
    "y": {"field": "y", "type": "quantitative", "scale": {"type": "log", "domain": [1e-10, 0.01], "nice": false},
      "axis": {"title": "|σ₀(ω) − σϵ(ω)|", "values": [1e-10,2e-10,3e-10,4e-10,5e-10,6e-10,7e-10,8e-10,9e-10,1e-9,2e-9,3e-9,4e-9,5e-9,6e-9,7e-9,8e-9,9e-9,1e-8,2e-8,3e-8,4e-8,5e-8,6e-8,7e-8,8e-8,9e-8,1e-7,2e-7,3e-7,4e-7,5e-7,6e-7,7e-7,8e-7,9e-7,1e-6,2e-6,3e-6,4e-6,5e-6,6e-6,7e-6,8e-6,9e-6,1e-5,2e-5,3e-5,4e-5,5e-5,6e-5,7e-5,8e-5,9e-5,1e-4,2e-4,3e-4,4e-4,5e-4,6e-4,7e-4,8e-4,9e-4,1e-3,2e-3,3e-3,4e-3,5e-3,6e-3,7e-3,8e-3,9e-3,1e-2],
        "labelExpr": "abs(log(datum.value)/LN10 - round(log(datum.value)/LN10)) < 0.001 && round(log(datum.value)/LN10) % 2 === 0 ? (round(log(datum.value)/LN10) === -2 ? '10⁻²' : round(log(datum.value)/LN10) === -4 ? '10⁻⁴' : round(log(datum.value)/LN10) === -6 ? '10⁻⁶' : round(log(datum.value)/LN10) === -8 ? '10⁻⁸' : '10⁻¹⁰') : ''",
        "gridDash": {"condition": {"test": "abs(log(datum.value)/LN10 - round(log(datum.value)/LN10)) < 0.001 && round(log(datum.value)/LN10) % 2 === 0", "value": []}, "value": [1, 2]},
        "gridColor": {"condition": {"test": "abs(log(datum.value)/LN10 - round(log(datum.value)/LN10)) < 0.001 && round(log(datum.value)/LN10) % 2 === 0", "value": "#e0e0e0"}, "value": "#c6c6c6"},
        "labelPadding": 13, "titlePadding": 6}}
  },
  "layer": [
    {"data": {"name": "b4"}, "mark": {"type": "line", "clip": true, "strokeWidth": 1.8},
     "encoding": {"color": {"datum": "ϵ = 10⁻⁴", "type": "nominal",
        "scale": {"domain": ["ϵ = 10⁻⁴", "ϵ = 10⁻⁵", "ϵ = 10⁻⁶", "ϵ = 10⁻⁷"], "range": ["#0072BD", "#D95319", "#EDB120", "#7E2F8E"]},
        "legend": {"orient": "none", "legendX": 373, "legendY": 3}}}},
    {"data": {"name": "b5"}, "mark": {"type": "line", "clip": true, "strokeWidth": 1.8}, "encoding": {"color": {"datum": "ϵ = 10⁻⁵", "type": "nominal"}}},
    {"data": {"name": "b6"}, "mark": {"type": "line", "clip": true, "strokeWidth": 1.8}, "encoding": {"color": {"datum": "ϵ = 10⁻⁶", "type": "nominal"}}},
    {"data": {"name": "b7"}, "mark": {"type": "line", "clip": true, "strokeWidth": 1.8}, "encoding": {"color": {"datum": "ϵ = 10⁻⁷", "type": "nominal"}}}
  ]
}
]
}
